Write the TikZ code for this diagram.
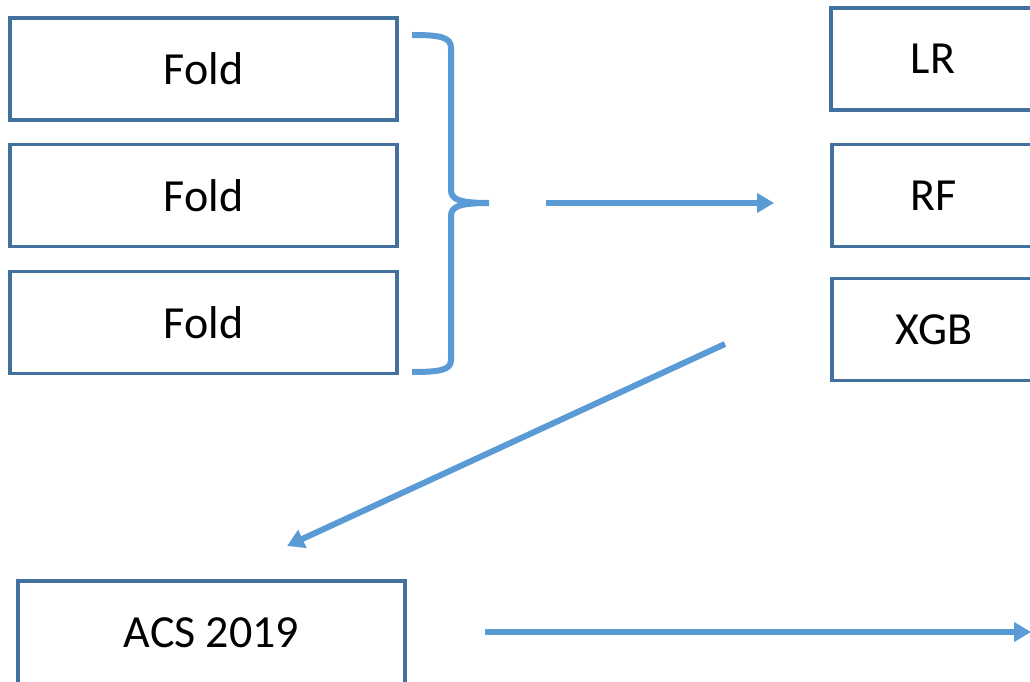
\documentclass[tikz,border=0pt]{standalone}
\usepackage{fontspec}
\setmainfont{Carlito}
\usetikzlibrary{arrows.meta}
\definecolor{boxline}{HTML}{41719C}
\definecolor{arrowblue}{HTML}{5B9BD5}
\tikzset{
  box/.style={draw=boxline, line width=3.5pt, fill=white, inner sep=0pt, outer sep=0pt,
    font=\fontsize{46}{54}\selectfont},
  foldbox/.style={box, minimum width=387pt, minimum height=102pt},
  modelbox/.style={box, minimum width=204pt, minimum height=102pt},
  flow/.style={draw=arrowblue, line width=6pt, -{Triangle[length=17pt,width=19pt]}},
  brace/.style={draw=arrowblue, line width=6pt, line cap=butt}
}
\begin{document}
\begin{tikzpicture}[x=1pt,y=-1pt]
\useasboundingbox (0,0) rectangle (1030,682);
\clip (0,0) rectangle (1030,682);
\fill[white] (0,0) rectangle (1030,682);
% Fold boxes
\node[foldbox] (f1) at (203.5,69) {Fold};
\node[foldbox] (f2) at (203.5,195.5) {Fold};
\node[foldbox] (f3) at (203.5,322.5) {Fold};
% model boxes
\node[modelbox] (lr) at (933,59) {LR};
\node[modelbox] (rf) at (934,195.5) {RF};
\node[modelbox] (xgb) at (934,329.5) {XGB};
% ACS box
\node[box, minimum width=387pt, minimum height=104pt] (acs) at (211.5,633) {ACS 2019};
% brace
\coordinate (btop) at (412,35);
\coordinate (btip) at (489,203);
\coordinate (bbot) at (412,372);
\draw[brace] (btop) .. controls (440,35) and (451,37) .. (451,48)
  -- (451,190) .. controls (451,199) and (458,203) .. (btip)
  (btip) .. controls (458,203) and (451,207) .. (451,216)
  -- (451,360) .. controls (451,370) and (440,372) .. (bbot);
% arrows
\coordinate (a1s) at (546,203);
\coordinate (a1e) at (774,203);
\draw[flow] (a1s) -- (a1e);
\coordinate (a2s) at (725,344);
\coordinate (a2e) at (287,546);
\draw[flow] (a2s) -- (a2e);
\coordinate (a3s) at (485,632);
\coordinate (a3e) at (1031,632);
\draw[flow] (a3s) -- (a3e);
\end{tikzpicture}
\end{document}
